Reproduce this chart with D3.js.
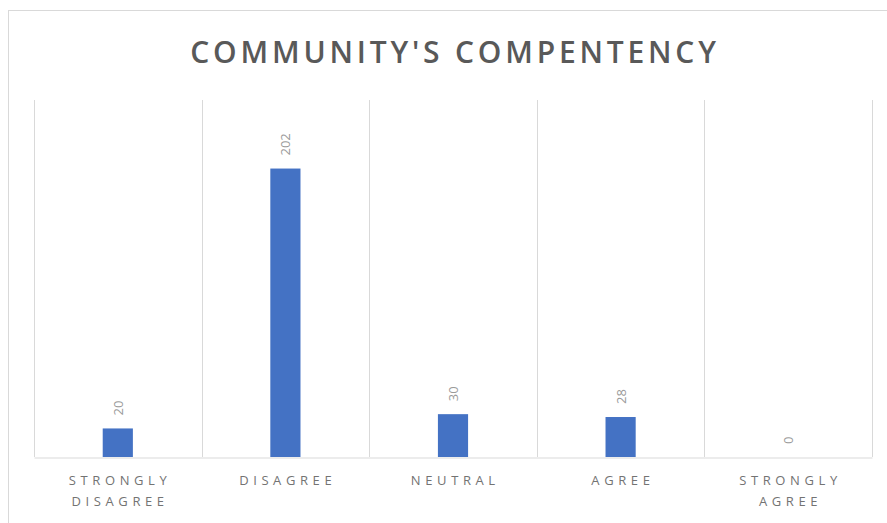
<!DOCTYPE html>
<html>
<head>
<meta charset="utf-8">
<script src="https://cdn.jsdelivr.net/npm/d3@7"></script>
<style>
  html, body { margin: 0; padding: 0; background: #ffffff; }
  svg { display: block; }
</style>
</head>
<body>
<svg id="chart" width="887" height="523"></svg>
<script>
// Survey responses
const categories = ["STRONGLY DISAGREE", "DISAGREE", "NEUTRAL", "AGREE", "STRONGLY AGREE"];
const categoryLines = [["STRONGLY", "DISAGREE"], ["DISAGREE"], ["NEUTRAL"], ["AGREE"], ["STRONGLY", "AGREE"]];
const counts = [20, 202, 30, 28, 0];
const yDomain = [0, 250];
const titleText = "COMMUNITY'S COMPENTENCY";

const W = 887, H = 523;
const margin = { left: 34, right: 15, top: 100, bottom: 66 };
const svg = d3.select("#chart");

// Chart frame
svg.append("rect")
  .attr("x", 8.5).attr("y", 10.5)
  .attr("width", W + 10).attr("height", H + 10)
  .attr("fill", "#ffffff")
  .attr("stroke", "#d9d9d9").attr("stroke-width", 1);

const x = d3.scaleBand()
  .domain(categories)
  .range([margin.left, W - margin.right])
  .padding(0);

const y = d3.scaleLinear()
  .domain(yDomain)
  .range([H - margin.bottom, margin.top]);

const barW = x.bandwidth() * 0.18;

// Vertical gridlines between categories
const gridXs = categories.map(c => x(c)).concat([x.range()[1]]);
svg.append("g").selectAll("line")
  .data(gridXs)
  .join("line")
  .attr("x1", d => Math.round(d) + 0.5).attr("x2", d => Math.round(d) + 0.5)
  .attr("y1", y(yDomain[1])).attr("y2", y(0))
  .attr("stroke", "#d9d9d9").attr("stroke-width", 1);

// Category axis
const xAxis = svg.append("g")
  .attr("transform", `translate(0,${Math.round(y(0)) + 0.5})`)
  .call(d3.axisBottom(x).tickSize(0).tickFormat(""));
xAxis.select(".domain").attr("stroke", "#d9d9d9");

// Bars
svg.append("g").selectAll("rect")
  .data(counts)
  .join("rect")
  .attr("x", (d, i) => x(categories[i]) + x.bandwidth() / 2 - barW / 2)
  .attr("y", d => y(d))
  .attr("width", barW)
  .attr("height", d => y(0) - y(d))
  .attr("fill", "#4472c4");

// Value labels, rotated
svg.append("g").selectAll("text")
  .data(counts)
  .join("text")
  .attr("transform", (d, i) => `translate(${x(categories[i]) + x.bandwidth() / 2 + 5},${y(d) - 13}) rotate(-90)`)
  .attr("text-anchor", "start")
  .attr("font-family", "'Open Sans', sans-serif")
  .attr("font-size", 13)
  .attr("fill", "#9a9a9a")
  .text(d => d);

// Category labels (widely tracked)
const tracking = 4.6;
const labelG = svg.append("g");
categoryLines.forEach((lines, i) => {
  lines.forEach((ln, j) => {
    labelG.append("text")
      .attr("x", x(categories[i]) + x.bandwidth() / 2 + tracking / 2)
      .attr("y", 485 + j * 21)
      .attr("text-anchor", "middle")
      .attr("font-family", "'Open Sans', sans-serif")
      .attr("font-size", 13)
      .attr("letter-spacing", tracking + "px")
      .attr("fill", "#737373")
      .text(ln);
  });
});

// Title
svg.append("text")
  .attr("x", 455).attr("y", 63)
  .attr("text-anchor", "middle")
  .attr("font-family", "'Open Sans', sans-serif")
  .attr("font-weight", 600)
  .attr("font-size", 30)
  .attr("letter-spacing", "3.8px")
  .attr("fill", "#595959")
  .text(titleText);
</script>
</body>
</html>
